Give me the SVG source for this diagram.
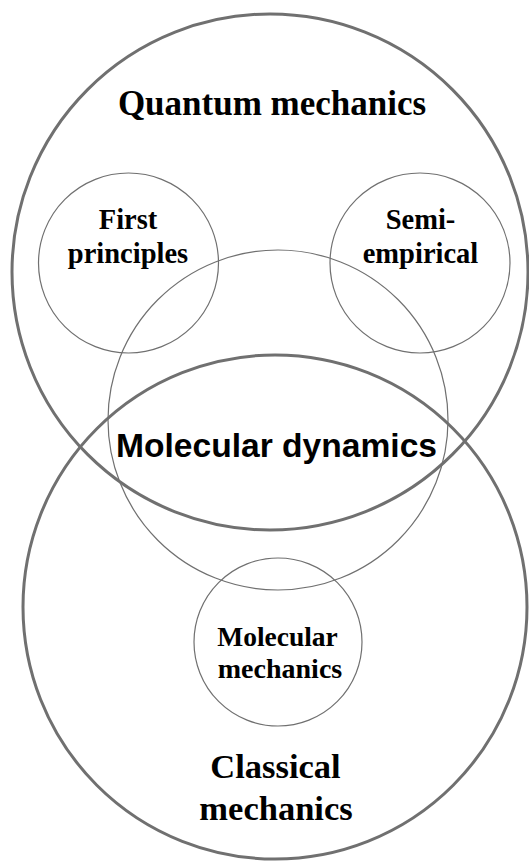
<svg xmlns="http://www.w3.org/2000/svg" width="529" height="862" viewBox="0 0 529 862">
<style>
.big{fill:none;stroke:#707070;stroke-width:3}
.small{fill:none;stroke:#707070;stroke-width:1.2}
.serif{font-family:"Liberation Serif","Times New Roman",serif;font-weight:bold;fill:#000;text-anchor:middle}
.sans{font-family:"Liberation Sans",Arial,sans-serif;font-weight:bold;fill:#000;text-anchor:middle}
</style>
<rect width="529" height="862" fill="#fff"/>
<g id="quantum">
<circle class="big" cx="270" cy="272" r="258"/>
<text class="serif" x="272" y="115" font-size="35">Quantum mechanics</text>
</g>
<g id="classical">
<circle class="big" cx="275" cy="607" r="252"/>
<text class="serif" x="275.5" y="778" font-size="34.5">Classical</text>
<text class="serif" x="276" y="820" font-size="34.5">mechanics</text>
</g>
<g id="first-principles">
<circle class="small" cx="128.5" cy="263" r="90"/>
<text class="serif" x="128" y="229" font-size="28.5">First</text>
<text class="serif" x="128" y="263" font-size="28.5">principles</text>
</g>
<g id="semi-empirical">
<circle class="small" cx="420" cy="263" r="90"/>
<text class="serif" x="420.5" y="229" font-size="28.5">Semi-</text>
<text class="serif" x="420.5" y="263" font-size="28.5">empirical</text>
</g>
<g id="molecular-dynamics">
<circle class="small" cx="278" cy="420" r="170"/>
<text class="sans" x="276.5" y="457" font-size="33.6">Molecular dynamics</text>
</g>
<g id="molecular-mechanics">
<circle class="small" cx="278" cy="642" r="84"/>
<text class="serif" x="277.5" y="645.5" font-size="27.5">Molecular</text>
<text class="serif" x="280" y="677.5" font-size="28">mechanics</text>
</g>
<g id="connectors"></g>
</svg>
